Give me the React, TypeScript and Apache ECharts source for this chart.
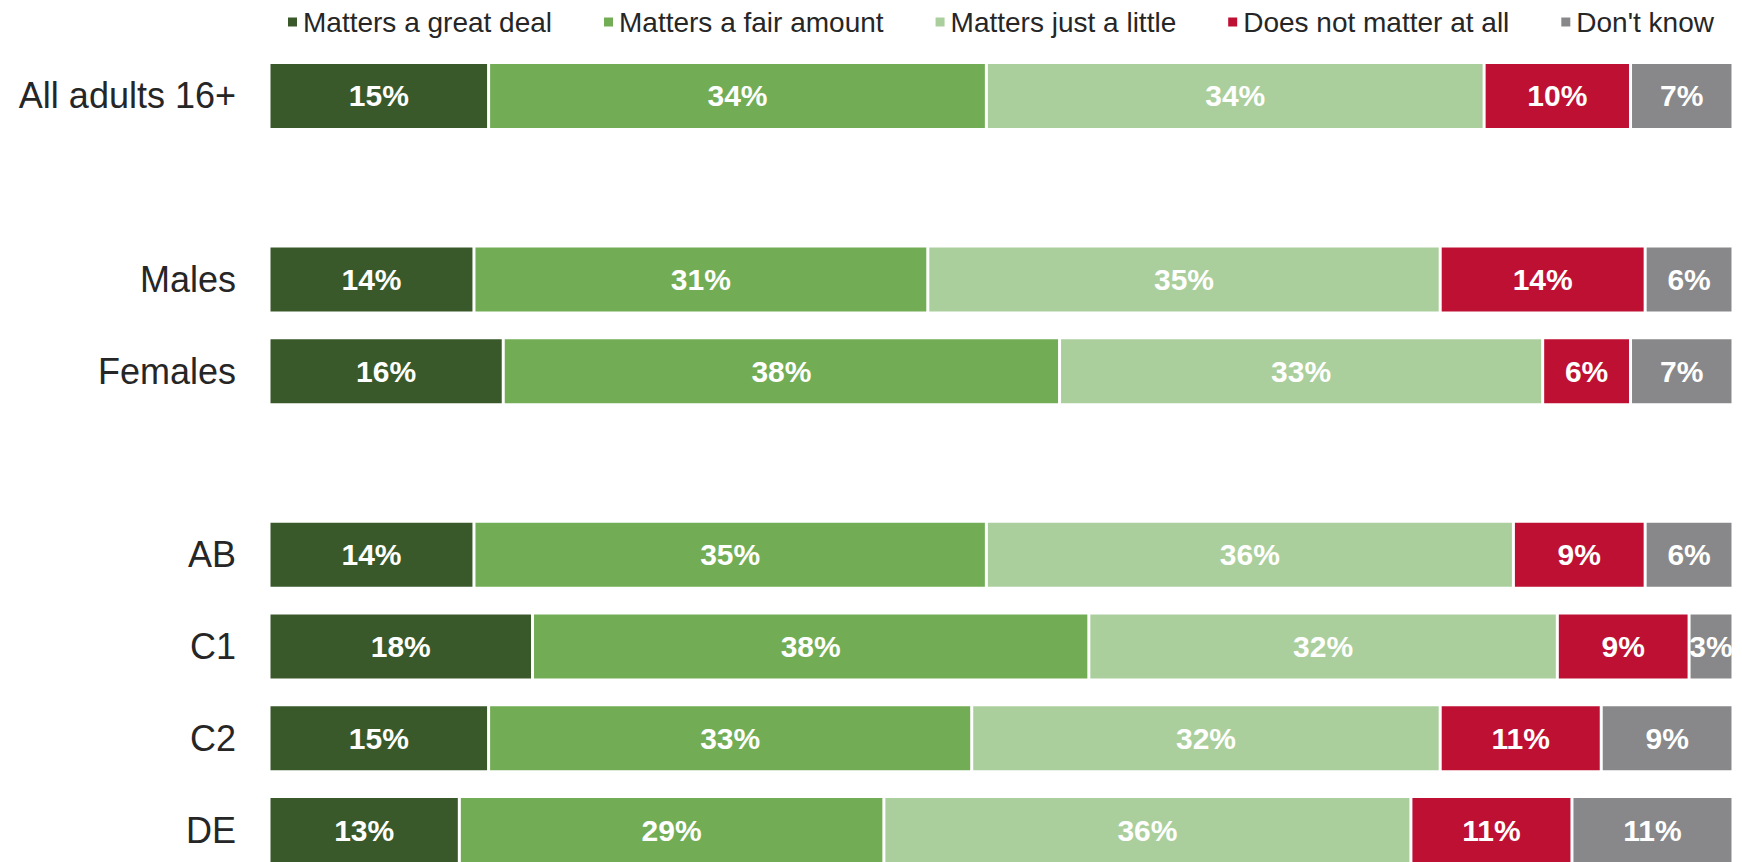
import React, { useEffect, useRef } from "react";
import * as echarts from "echarts";

const categories = ["All adults 16+", " ", "Males", "Females", "  ", "AB", "C1", "C2", "DE"];
const seriesNames = [
  "Matters a great deal",
  "Matters a fair amount",
  "Matters just a little",
  "Does not matter at all",
  "Don't know",
];
const greatDeal = [15, null, 14, 16, null, 14, 18, 15, 13];
const fairAmount = [34, null, 31, 38, null, 35, 38, 33, 29];
const justLittle = [34, null, 35, 33, null, 36, 32, 32, 36];
const notAtAll = [10, null, 14, 6, null, 9, 9, 11, 11];
const dontKnow = [7, null, 6, 7, null, 6, 3, 9, 11];
const colors = ["#39592A", "#72AD55", "#ABCF9C", "#BE1033", "#88888A"];

const FONT = "'Liberation Sans', Arial, sans-serif";

export default function App() {
  const ref = useRef<HTMLDivElement>(null);
  useEffect(() => {
    if (!ref.current) return;
    const chart = echarts.init(ref.current, null, { renderer: "svg" });
    const values = [greatDeal, fairAmount, justLittle, notAtAll, dontKnow];
    chart.setOption({
      animation: false,
      color: colors,
      textStyle: { fontFamily: FONT },
      legend: {
        left: 281,
        top: 3,
        itemWidth: 11,
        itemHeight: 11,
        itemGap: 50,
        icon: "rect",
        textStyle: {
          fontSize: 28,
          color: "#262626",
          fontFamily: FONT,
        },
        data: seriesNames,
      },
      grid: {
        left: 269,
        right: 9,
        top: 50,
        height: 826,
        containLabel: false,
        outerBoundsMode: "none",
      },
      xAxis: { type: "value", min: 0, max: 100, show: false },
      yAxis: {
        type: "category",
        inverse: true,
        data: categories,
        axisLine: { show: false },
        axisTick: { show: false },
        splitLine: { show: false },
        axisLabel: { fontSize: 36, color: "#262626", margin: 33, fontFamily: FONT },
      },
      series: seriesNames.map((name, i) => ({
        name,
        type: "bar",
        stack: "total",
        barCategoryGap: "27%",
        data: values[i],
        itemStyle: { color: colors[i], borderColor: "#ffffff", borderWidth: 1.5 },
        label: {
          show: true,
          position: "inside",
          formatter: (p: any) => (p.value == null ? "" : `${p.value}%`),
          color: "#ffffff",
          fontSize: 30,
          fontWeight: "bold",
          fontFamily: FONT,
        },
      })),
    });
    return () => chart.dispose();
  }, []);
  return (
    <div
      ref={ref}
      style={{ position: "fixed", left: 0, top: 0, width: 1742, height: 862, background: "#ffffff" }}
    />
  );
}
